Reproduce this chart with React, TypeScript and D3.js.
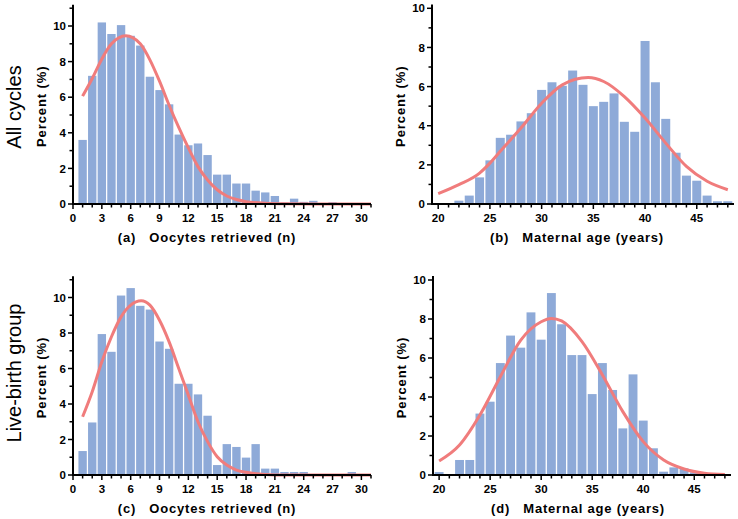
import React from 'react';
import * as d3 from 'd3';

// bins
const oocyteBins = d3.range(1, 31);
const ageBins = d3.range(20, 49);

// (a) all cycles, oocytes retrieved (%)
const oocytesAll = [3.6, 7.2, 10.2, 9.55, 10.05, 9.45, 8.9, 7.15, 6.4, 5.6, 3.9, 3.3, 3.4, 2.75, 1.65, 1.65, 1.15, 1.15, 0.75, 0.65, 0.45, 0.08, 0.3, 0.12, 0.18, 0.05, 0.1, 0.04, 0.03, 0.02];
// (b) all cycles, maternal age (%)
const ageAll = [0.03, 0.03, 0.17, 0.43, 1.36, 2.23, 3.38, 3.54, 4.22, 4.64, 5.83, 6.22, 6.04, 6.82, 6.09, 5.0, 5.22, 5.65, 4.2, 3.69, 8.33, 6.22, 4.35, 2.62, 1.45, 1.19, 0.43, 0.14, 0.14];
// (c) live-birth group, oocytes retrieved (%)
const oocytesLive = [1.35, 2.96, 7.94, 6.94, 10.11, 10.53, 9.53, 9.32, 7.52, 7.11, 5.14, 5.14, 4.54, 3.34, 0.56, 1.74, 1.58, 0.98, 1.74, 0.36, 0.36, 0.17, 0.17, 0.17, 0, 0, 0, 0, 0.17, 0];
// (d) live-birth group, maternal age (%)
const ageLive = [0.15, 0.05, 0.77, 0.77, 3.15, 3.76, 5.74, 7.15, 6.53, 8.34, 6.94, 9.33, 7.73, 6.15, 6.15, 4.15, 5.74, 4.36, 2.39, 5.16, 2.79, 1.37, 0.17, 0.39, 0.34, 0.14, 0.05, 0, 0];

// fitted curves
const fitAX = [1, 2, 3, 4, 5.5, 7, 8, 9, 10, 11, 12, 13, 14, 15, 16, 17, 18, 20, 22, 25, 31];
const fitAY = [6.06, 7.05, 8.15, 9.0, 9.45, 9.0, 8.1, 6.9, 5.55, 4.3, 3.15, 2.1, 1.35, 0.8, 0.45, 0.25, 0.13, 0.04, 0.01, 0, 0];
const fitBX = [20, 22, 24, 25, 26, 28, 30, 32, 34.5, 36, 38, 40, 42, 44, 46, 48];
const fitBY = [0.53, 0.99, 1.58, 2.09, 2.69, 3.88, 5.15, 6.09, 6.46, 6.26, 5.49, 4.39, 3.11, 1.92, 1.16, 0.73];
const fitCX = [1, 2, 3, 4, 5, 6, 7.1, 8, 9, 10, 11, 12, 13, 14, 15, 16, 17, 18, 20, 22, 31];
const fitCY = [3.28, 4.69, 6.38, 7.79, 8.91, 9.57, 9.81, 9.57, 8.72, 7.5, 6.0, 4.5, 3.0, 1.88, 1.03, 0.56, 0.28, 0.15, 0.03, 0, 0];
const fitDX = [20, 22, 24, 26, 28, 30, 31, 32, 34, 36, 38, 40, 42, 44, 46, 48];
const fitDY = [0.72, 1.54, 3.08, 5.04, 6.92, 7.86, 8.03, 7.9, 6.84, 5.13, 3.25, 1.71, 0.77, 0.31, 0.09, 0.02];

const oocyteTicks = d3.range(0, 31, 3);
const ageTicks = d3.range(20, 46, 5);
const percentTicks = d3.range(0, 11, 2);

const BAR = '#8eaad8';
const FIT = '#f07c7c';
const FONT = '"Liberation Sans", Arial, sans-serif';

type PanelProps = {
  bins: number[];
  values: number[];
  fitX: number[];
  fitY: number[];
  xDomain: [number, number];
  xRange: [number, number];
  yRange: [number, number];
  yTop: number;
  xTicks: number[];
  xMinor: number[];
  title: string;
  titleX: number;
  ylabX: number;
};

function Panel(p: PanelProps) {
  const x = d3.scaleLinear().domain(p.xDomain).range(p.xRange);
  const y = d3.scaleLinear().domain([0, 10]).range(p.yRange);
  const bw = (x(1) - x(0)) * 0.87;
  const y0 = y(0);
  const ax = p.xRange[0];
  const line = d3.line<number>()
    .x((d, i) => x(p.fitX[i]))
    .y(d => y(d))
    .curve(d3.curveMonotoneX);
  const yMinor = d3.range(0, Math.floor(p.yTop) + 1);

  return (
    <g fontFamily={FONT}>
      {p.bins.map((b, i) => (
        <rect key={i} x={x(b) - bw / 2} y={y(p.values[i])} width={bw}
          height={y0 - y(p.values[i])} fill={BAR} />
      ))}
      <path d={line(p.fitY) || ''} fill="none" stroke={FIT} strokeWidth={3} />
      {/* axes */}
      <line x1={ax} x2={ax} y1={y(p.yTop)} y2={y0 + 1} stroke="#000" strokeWidth={2} />
      <line x1={ax - 1} x2={p.xRange[1]} y1={y0} y2={y0} stroke="#000" strokeWidth={2} />
      {yMinor.map(t => (
        <line key={'ym' + t} x1={ax} x2={ax - (t % 2 === 0 ? 5 : 3.5)} y1={y(t)} y2={y(t)} stroke="#000" strokeWidth={1.5} />
      ))}
      {p.xMinor.map(t => (
        <line key={'xm' + t} x1={x(t)} x2={x(t)} y1={y0} y2={y0 + (p.xTicks.includes(t) ? 5 : 3.5)} stroke="#000" strokeWidth={1.5} />
      ))}
      {percentTicks.map(t => (
        <text key={'yl' + t} x={ax - 7} y={y(t)} dy="0.36em" textAnchor="end"
          fontSize={11.5} fontWeight="bold">{t}</text>
      ))}
      {p.xTicks.map(t => (
        <text key={'xl' + t} x={x(t)} y={y0 + 18} textAnchor="middle"
          fontSize={11.5} fontWeight="bold">{t}</text>
      ))}
      <text x={p.titleX} y={y0 + 37.5} textAnchor="middle" fontSize={13} fontWeight="bold"
        letterSpacing={0.8} style={{whiteSpace: 'pre'}}>{p.title}</text>
      <text transform={`translate(${p.ylabX},${(y0 + y(p.yTop)) / 2 + 2}) rotate(-90)`} dy="0.35em"
        textAnchor="middle" fontSize={13} fontWeight="bold" letterSpacing={0.9}>Percent (%)</text>
    </g>
  );
}

export default function App() {
  return (
    <svg width={738} height={519} style={{position: 'absolute', left: 0, top: 0}}>
      <rect width={738} height={519} fill="#fff" />
      <text transform="translate(14,107) rotate(-90)" dy="0.35em" textAnchor="middle"
        fontFamily={FONT} fontSize={20}>All cycles</text>
      <text transform="translate(14,373) rotate(-90)" dy="0.35em" textAnchor="middle"
        fontFamily={FONT} fontSize={20}>Live-birth group</text>
      <Panel bins={oocyteBins} values={oocytesAll} fitX={fitAX} fitY={fitAY}
        xDomain={[0, 31]} xRange={[73, 371]} yRange={[204, 26]} yTop={11.2}
        xTicks={oocyteTicks} xMinor={d3.range(0, 32)} title="(a)   Oocytes retrieved (n)"
        titleX={207} ylabX={41} />
      <Panel bins={ageBins} values={ageAll} fitX={fitBX} fitY={fitBY}
        xDomain={[19.4, 48.6]} xRange={[432, 734]} yRange={[204, 8.3]} yTop={10.2}
        xTicks={ageTicks} xMinor={d3.range(20, 49)} title="(b)   Maternal age (years)"
        titleX={577} ylabX={400} />
      <Panel bins={oocyteBins} values={oocytesLive} fitX={fitCX} fitY={fitCY}
        xDomain={[0, 31]} xRange={[73, 371]} yRange={[475, 297.5]} yTop={11.2}
        xTicks={oocyteTicks} xMinor={d3.range(0, 32)} title="(c)   Oocytes retrieved (n)"
        titleX={207} ylabX={41} />
      <Panel bins={ageBins} values={ageLive} fitX={fitDX} fitY={fitDY}
        xDomain={[19.4, 48.6]} xRange={[433, 731]} yRange={[475, 280]} yTop={10.2}
        xTicks={ageTicks} xMinor={d3.range(20, 49)} title="(d)   Maternal age (years)"
        titleX={578} ylabX={401} />
    </svg>
  );
}
